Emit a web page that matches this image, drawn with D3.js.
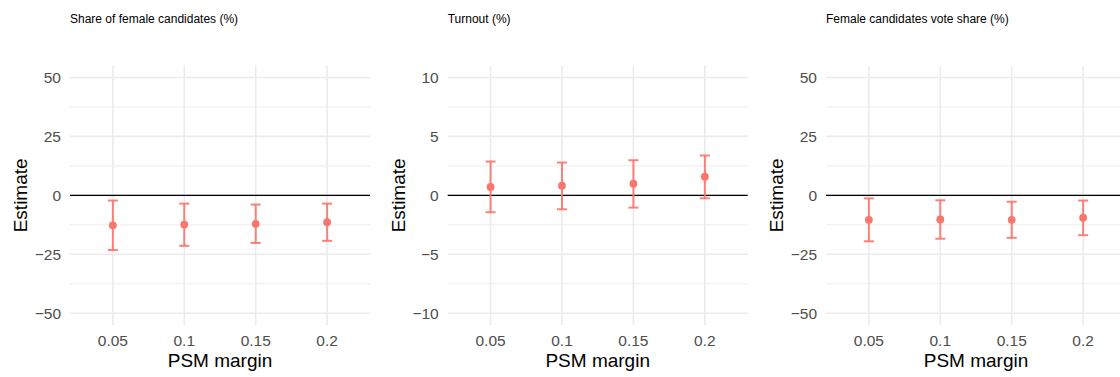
<!DOCTYPE html>
<html>
<head>
<meta charset="utf-8">
<script src="https://cdn.jsdelivr.net/npm/d3@7"></script>
<style>
  body { margin: 0; background: #fff; }
  svg { display: block; font-family: "Liberation Sans", Arial, sans-serif; }
</style>
</head>
<body>
<div id="chart"></div>
<script>
// PSM margins (discrete x axis)
const margins = ["0.05", "0.1", "0.15", "0.2"];

// panel titles
const titles = ["Share of female candidates (%)", "Turnout (%)", "Female candidates vote share (%)"];

// estimates and 95% CI per outcome
const shareEst = [-12.7, -12.4, -12.1, -11.4];
const shareLow = [-23.2, -21.4, -20.2, -19.3];
const shareHigh = [-2.2, -3.5, -3.9, -3.5];

const turnoutEst = [0.71, 0.82, 0.99, 1.58];
const turnoutLow = [-1.43, -1.18, -1.04, -0.25];
const turnoutHigh = [2.87, 2.78, 2.98, 3.38];

const voteEst = [-10.4, -10.25, -10.4, -9.5];
const voteLow = [-19.5, -18.4, -18.0, -16.9];
const voteHigh = [-1.3, -2.1, -2.7, -2.2];

// y limits and breaks per panel
const yLimits = [[-50, 50], [-10, 10], [-50, 50]];
const yBreaks = [[-50, -25, 0, 25, 50], [-10, -5, 0, 5, 10], [-50, -25, 0, 25, 50]];

const panels = [
    { est: shareEst, low: shareLow, high: shareHigh },
    { est: turnoutEst, low: turnoutLow, high: turnoutHigh },
    { est: voteEst, low: voteLow, high: voteHigh }
];

const W = 1120, H = 377;
const red = "#F8766D";
const panelLeft = [70, 447.7, 826];
const panelW = 300, plotTop = 65.7, plotBottom = 325;

const svg = d3.select("#chart").append("svg")
    .attr("width", W)
    .attr("height", H);

panels.forEach(function(p, i) {
    const x0 = panelLeft[i];
    const g = svg.append("g").attr("transform", "translate(" + x0 + ",0)");

    const x = d3.scalePoint()
        .domain(margins)
        .range([0, panelW])
        .padding(0.6);

    // 5% expansion around the limits, like ggplot
    const lim = yLimits[i];
    const pad = (lim[1] - lim[0]) * 0.05;
    const y = d3.scaleLinear()
        .domain([lim[0] - pad, lim[1] + pad])
        .range([plotBottom, plotTop]);

    const br = yBreaks[i];
    const minor = d3.range(br.length - 1).map(function(k) { return (br[k] + br[k + 1]) / 2; });

    // minor grid
    g.selectAll(".minor")
        .data(minor)
        .enter().append("line")
        .attr("x1", 0).attr("x2", panelW)
        .attr("y1", d => y(d)).attr("y2", d => y(d))
        .attr("stroke", "#ebebeb")
        .attr("stroke-width", 0.9);

    // major grid
    g.selectAll(".hmajor")
        .data(br)
        .enter().append("line")
        .attr("x1", 0).attr("x2", panelW)
        .attr("y1", d => y(d)).attr("y2", d => y(d))
        .attr("stroke", "#ebebeb")
        .attr("stroke-width", 1.6);

    g.selectAll(".vmajor")
        .data(margins)
        .enter().append("line")
        .attr("x1", d => x(d)).attr("x2", d => x(d))
        .attr("y1", plotTop).attr("y2", plotBottom)
        .attr("stroke", "#ebebeb")
        .attr("stroke-width", 1.6);

    // zero line
    g.append("line")
        .attr("x1", 0).attr("x2", panelW)
        .attr("y1", y(0)).attr("y2", y(0))
        .attr("stroke", "#000")
        .attr("stroke-width", 1.4);

    // y tick labels
    g.selectAll(".ytick")
        .data(br)
        .enter().append("text")
        .attr("x", -9)
        .attr("y", d => y(d))
        .attr("dy", "0.35em")
        .attr("text-anchor", "end")
        .attr("font-size", 15.5)
        .attr("fill", "#4d4d4d")
        .text(d => d < 0 ? "\u2212" + Math.abs(d) : d);

    // x tick labels
    g.selectAll(".xtick")
        .data(margins)
        .enter().append("text")
        .attr("x", d => x(d))
        .attr("y", 346)
        .attr("text-anchor", "middle")
        .attr("font-size", 15.5)
        .attr("fill", "#4d4d4d")
        .text(d => d);

    // axis titles
    g.append("text")
        .attr("x", panelW / 2)
        .attr("y", 367)
        .attr("text-anchor", "middle")
        .attr("font-size", 19)
        .attr("fill", "#000")
        .text("PSM margin");

    g.append("text")
        .attr("transform", "translate(-43," + ((plotTop + plotBottom) / 2) + ") rotate(-90)")
        .attr("text-anchor", "middle")
        .attr("font-size", 19)
        .attr("fill", "#000")
        .text("Estimate");

    // panel title
    g.append("text")
        .attr("x", 0)
        .attr("y", 23)
        .attr("font-size", 12)
        .attr("fill", "#000")
        .text(titles[i]);

    // error bars
    const cap = x.step() * 0.07;
    const bars = g.selectAll(".bar")
        .data(margins)
        .enter().append("g")
        .attr("stroke", red)
        .attr("stroke-opacity", 0.9)
        .attr("stroke-width", 2);

    bars.append("line")
        .attr("x1", d => x(d)).attr("x2", d => x(d))
        .attr("y1", (d, k) => y(p.low[k])).attr("y2", (d, k) => y(p.high[k]));
    bars.append("line")
        .attr("x1", d => x(d) - cap).attr("x2", d => x(d) + cap)
        .attr("y1", (d, k) => y(p.low[k])).attr("y2", (d, k) => y(p.low[k]));
    bars.append("line")
        .attr("x1", d => x(d) - cap).attr("x2", d => x(d) + cap)
        .attr("y1", (d, k) => y(p.high[k])).attr("y2", (d, k) => y(p.high[k]));

    // points
    g.selectAll(".pt")
        .data(margins)
        .enter().append("circle")
        .attr("cx", d => x(d))
        .attr("cy", (d, k) => y(p.est[k]))
        .attr("r", 3.9)
        .attr("fill", red);
});
</script>
</body>
</html>
